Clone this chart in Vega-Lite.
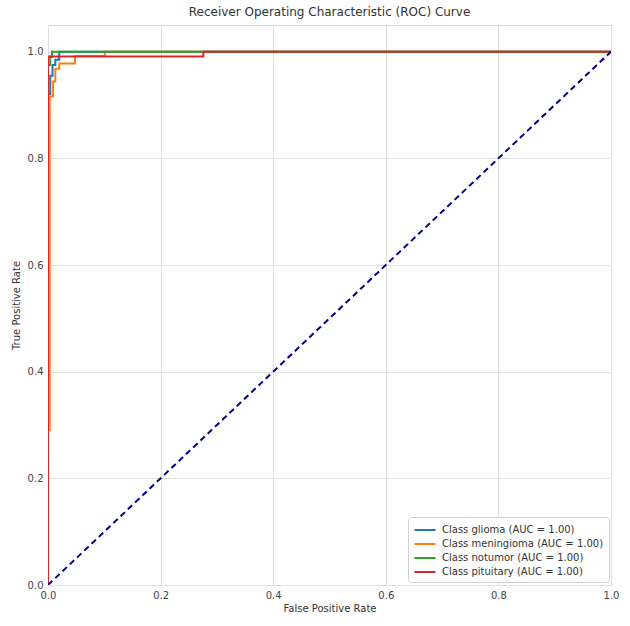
{
  "$schema": "https://vega.github.io/schema/vega-lite/v6.json",
  "width": 563,
  "height": 560,
  "autosize": {"type": "none"},
  "padding": {"left": 48, "top": 25, "right": 19, "bottom": 41},
  "background": "white",
  "title": {
    "text": "Receiver Operating Characteristic (ROC) Curve",
    "font": "DejaVu Sans",
    "fontSize": 12,
    "fontWeight": "normal",
    "color": "#333333",
    "anchor": "middle",
    "offset": 6
  },
  "config": {
    "view": {"stroke": "#d9d9d9", "strokeWidth": 1},
    "axis": {
      "labelFont": "DejaVu Sans",
      "labelFontSize": 10,
      "labelColor": "#444444",
      "titleFont": "DejaVu Sans",
      "titleFontSize": 10,
      "titleFontWeight": "normal",
      "titleColor": "#333333",
      "domain": false,
      "ticks": false,
      "labelFlush": false,
      "labelOverlap": false,
      "labelBound": false,
      "gridColor": "#e0e0e0",
      "gridWidth": 1
    }
  },
  "datasets": {
    "roc": [
      {"cls": "Class glioma (AUC = 1.00)", "i": 0, "fpr": 0, "tpr": 0},
      {"cls": "Class glioma (AUC = 1.00)", "i": 1, "fpr": 0, "tpr": 0.92},
      {"cls": "Class glioma (AUC = 1.00)", "i": 2, "fpr": 0.004, "tpr": 0.92},
      {"cls": "Class glioma (AUC = 1.00)", "i": 3, "fpr": 0.004, "tpr": 0.955},
      {"cls": "Class glioma (AUC = 1.00)", "i": 4, "fpr": 0.008, "tpr": 0.955},
      {"cls": "Class glioma (AUC = 1.00)", "i": 5, "fpr": 0.008, "tpr": 0.975},
      {"cls": "Class glioma (AUC = 1.00)", "i": 6, "fpr": 0.013, "tpr": 0.975},
      {"cls": "Class glioma (AUC = 1.00)", "i": 7, "fpr": 0.013, "tpr": 0.985},
      {"cls": "Class glioma (AUC = 1.00)", "i": 8, "fpr": 0.02, "tpr": 0.985},
      {"cls": "Class glioma (AUC = 1.00)", "i": 9, "fpr": 0.02, "tpr": 1.0},
      {"cls": "Class glioma (AUC = 1.00)", "i": 10, "fpr": 1.0, "tpr": 1.0},
      {"cls": "Class meningioma (AUC = 1.00)", "i": 0, "fpr": 0, "tpr": 0},
      {"cls": "Class meningioma (AUC = 1.00)", "i": 1, "fpr": 0, "tpr": 0.29},
      {"cls": "Class meningioma (AUC = 1.00)", "i": 2, "fpr": 0.003, "tpr": 0.29},
      {"cls": "Class meningioma (AUC = 1.00)", "i": 3, "fpr": 0.003, "tpr": 0.916},
      {"cls": "Class meningioma (AUC = 1.00)", "i": 4, "fpr": 0.009, "tpr": 0.916},
      {"cls": "Class meningioma (AUC = 1.00)", "i": 5, "fpr": 0.009, "tpr": 0.944},
      {"cls": "Class meningioma (AUC = 1.00)", "i": 6, "fpr": 0.013, "tpr": 0.944},
      {"cls": "Class meningioma (AUC = 1.00)", "i": 7, "fpr": 0.013, "tpr": 0.968},
      {"cls": "Class meningioma (AUC = 1.00)", "i": 8, "fpr": 0.02, "tpr": 0.968},
      {"cls": "Class meningioma (AUC = 1.00)", "i": 9, "fpr": 0.02, "tpr": 0.978},
      {"cls": "Class meningioma (AUC = 1.00)", "i": 10, "fpr": 0.048, "tpr": 0.978},
      {"cls": "Class meningioma (AUC = 1.00)", "i": 11, "fpr": 0.048, "tpr": 0.992},
      {"cls": "Class meningioma (AUC = 1.00)", "i": 12, "fpr": 0.101, "tpr": 0.992},
      {"cls": "Class meningioma (AUC = 1.00)", "i": 13, "fpr": 0.101, "tpr": 1.0},
      {"cls": "Class meningioma (AUC = 1.00)", "i": 14, "fpr": 1.0, "tpr": 1.0},
      {"cls": "Class notumor (AUC = 1.00)", "i": 0, "fpr": 0, "tpr": 0},
      {"cls": "Class notumor (AUC = 1.00)", "i": 1, "fpr": 0, "tpr": 0.975},
      {"cls": "Class notumor (AUC = 1.00)", "i": 2, "fpr": 0.004, "tpr": 0.975},
      {"cls": "Class notumor (AUC = 1.00)", "i": 3, "fpr": 0.004, "tpr": 0.99},
      {"cls": "Class notumor (AUC = 1.00)", "i": 4, "fpr": 0.007, "tpr": 0.99},
      {"cls": "Class notumor (AUC = 1.00)", "i": 5, "fpr": 0.007, "tpr": 1.0},
      {"cls": "Class notumor (AUC = 1.00)", "i": 6, "fpr": 1.0, "tpr": 1.0},
      {"cls": "Class pituitary (AUC = 1.00)", "i": 0, "fpr": 0, "tpr": 0},
      {"cls": "Class pituitary (AUC = 1.00)", "i": 1, "fpr": 0, "tpr": 0.991},
      {"cls": "Class pituitary (AUC = 1.00)", "i": 2, "fpr": 0.276, "tpr": 0.991},
      {"cls": "Class pituitary (AUC = 1.00)", "i": 3, "fpr": 0.276, "tpr": 1.0},
      {"cls": "Class pituitary (AUC = 1.00)", "i": 4, "fpr": 1.0, "tpr": 1.0}
    ],
    "diag": [
      {"fpr": 0, "tpr": 0},
      {"fpr": 1, "tpr": 1}
    ]
  },
  "layer": [
    {
      "data": {"name": "roc"},
      "mark": {"type": "line", "strokeWidth": 2, "clip": true, "interpolate": "linear"},
      "encoding": {
        "x": {
          "field": "fpr", "type": "quantitative",
          "scale": {"domain": [0, 1], "nice": false, "zero": false},
          "axis": {"title": "False Positive Rate", "values": [0, 0.2, 0.4, 0.6, 0.8, 1.0], "format": ".1f", "labelPadding": 5, "titlePadding": 3}
        },
        "y": {
          "field": "tpr", "type": "quantitative",
          "scale": {"domain": [0, 1.05], "nice": false, "zero": false},
          "axis": {"title": "True Positive Rate", "values": [0, 0.2, 0.4, 0.6, 0.8, 1.0], "format": ".1f", "labelPadding": 5, "titlePadding": 6}
        },
        "color": {
          "field": "cls", "type": "nominal",
          "scale": {
            "domain": ["Class glioma (AUC = 1.00)", "Class meningioma (AUC = 1.00)", "Class notumor (AUC = 1.00)", "Class pituitary (AUC = 1.00)"],
            "range": ["#1f77b4", "#ff7f0e", "#2ca02c", "#d62728"]
          },
          "legend": {
            "title": null,
            "orient": "none",
            "legendX": 360,
            "legendY": 492,
            "symbolType": "M-1.5,0H1.5",
            "symbolStrokeWidth": 2,
            "symbolSize": 196,
            "symbolOffset": 4,
            "labelFont": "DejaVu Sans",
            "labelFontSize": 10,
            "labelColor": "#333333",
            "labelLimit": 300,
            "rowPadding": 1,
            "padding": 5,
            "strokeColor": "#d0d0d0",
            "fillColor": "white",
            "cornerRadius": 3,
            "labelOffset": 9
          }
        },
        "order": {"field": "i", "type": "quantitative"}
      }
    },
    {
      "data": {"name": "diag"},
      "mark": {"type": "line", "color": "#00008b", "strokeWidth": 2, "strokeDash": [6, 4], "clip": true},
      "encoding": {
        "x": {"field": "fpr", "type": "quantitative"},
        "y": {"field": "tpr", "type": "quantitative"}
      }
    }
  ]
}
